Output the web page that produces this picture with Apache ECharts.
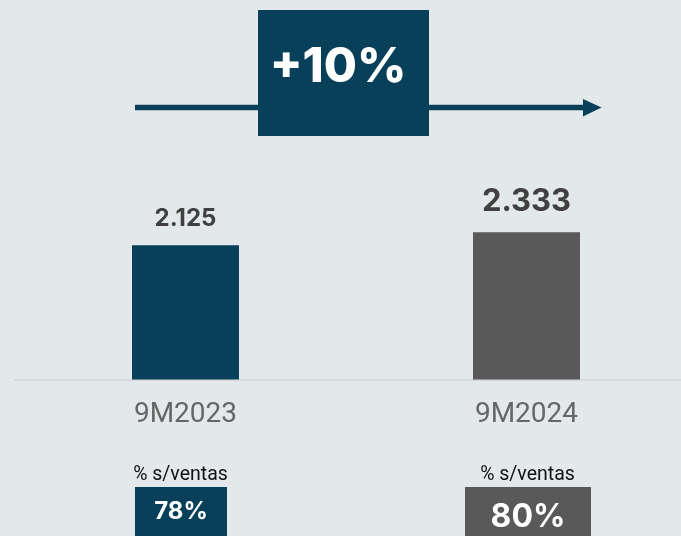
<!DOCTYPE html>
<html>
<head>
<meta charset="utf-8">
<script src="https://cdn.jsdelivr.net/npm/echarts@6/dist/echarts.min.js"></script>
<style>
html,body{margin:0;padding:0;background:#e3e8eb;}
#c{width:681px;height:536px;}
</style>
</head>
<body>
<div id="c"></div>
<script>
const categories = ['9M2023', '9M2024'];
const values = [2125, 2333];
const valueLabels = ['2.125', '2.333'];
const shareLabel = '% s/ventas';
const shares = [78, 80];
const colors = ['#08405a', '#595959'];

const chart = echarts.init(document.getElementById('c'), null, {renderer: 'canvas'});
const growth = Math.round((values[1] / values[0] - 1) * 100);

const labelSizes = [24, 31];
const barItems = values.map((v, i) => ({
  value: v,
  itemStyle: {color: colors[i]},
  label: {
    show: true, position: 'top', distance: 15,
    formatter: valueLabels[i],
    fontFamily: 'Inter', fontWeight: 'bold', fontSize: labelSizes[i], color: '#404040'
  }
}));

chart.setOption({
  backgroundColor: '#e3e8eb',
  animation: false,
  grid: {left: 15, right: -16, top: 127, bottom: 156.5, outerBoundsMode: 'none', containLabel: false},
  xAxis: {
    type: 'category', data: categories, boundaryGap: true,
    axisLine: {show: true, lineStyle: {color: '#d4d8db', width: 2}},
    axisTick: {show: false},
    axisLabel: {fontFamily: 'Roboto', fontSize: 28, color: '#666666', margin: 21}
  },
  yAxis: {type: 'value', min: 0, max: 4000, show: false, splitLine: {show: false}},
  series: [{type: 'bar', data: barItems, barWidth: 107}]
});

function drawExtras() {
  const boxW = [92, 126];
  const boxFont = [24, 32];
  const boxTextY = [512, 517];
  const textOff = [-5, 1];
  const boxOff = [-4.5, 1.5];
  const els = [];
  // growth arrow
  els.push({type: 'line', shape: {x1: 135, y1: 107.5, x2: 586, y2: 107.5}, style: {stroke: '#08405a', lineWidth: 5.5}, silent: true});
  els.push({type: 'polygon', shape: {points: [[583, 99], [601.5, 107.5], [583, 116.5]]}, style: {fill: '#08405a'}, silent: true});
  els.push({type: 'rect', shape: {x: 258, y: 10, width: 171, height: 126}, style: {fill: '#08405a'}, silent: true});
  els.push({type: 'text', x: 338, y: 68, style: {text: '+' + growth + '%', fontFamily: 'Inter', fontWeight: 800, fontSize: 48, fill: '#ffffff', align: 'center', verticalAlign: 'middle'}, silent: true});
  categories.forEach((c, i) => {
    const px = chart.convertToPixel({xAxisIndex: 0}, c);
    els.push({type: 'text', x: px + textOff[i], y: 475, style: {text: shareLabel, fontFamily: 'Roboto', fontSize: 19.5, fill: '#111111', align: 'center', verticalAlign: 'middle'}, silent: true});
    els.push({type: 'rect', shape: {x: px + boxOff[i] - boxW[i] / 2, y: 487, width: boxW[i], height: 60}, style: {fill: colors[i]}, silent: true});
    els.push({type: 'text', x: px + boxOff[i], y: boxTextY[i], style: {text: shares[i] + '%', fontFamily: 'Inter', fontWeight: 'bold', fontSize: boxFont[i], fill: '#ffffff', align: 'center', verticalAlign: 'middle'}, silent: true});
  });
  chart.setOption({graphic: {elements: els}});
}
drawExtras();
</script>
</body>
</html>
